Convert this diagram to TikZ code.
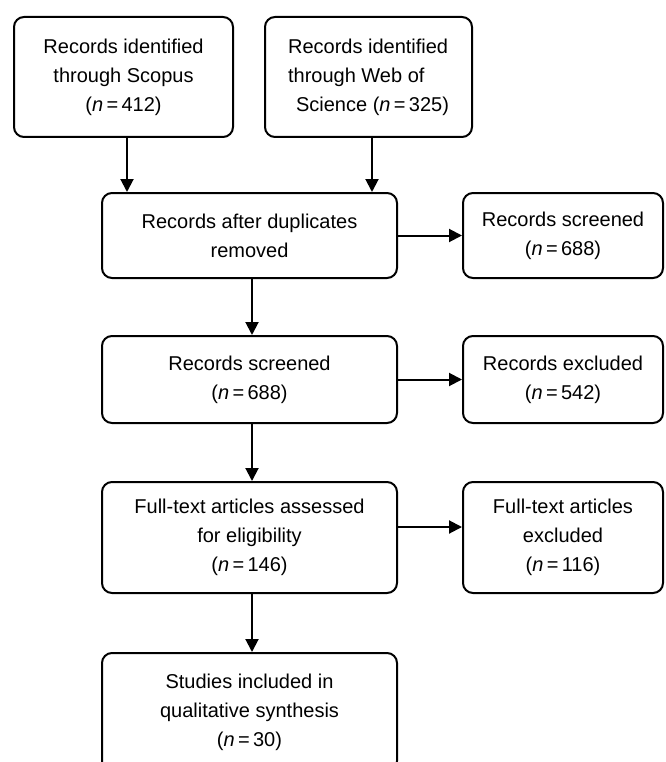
\documentclass[tikz,border=0pt]{standalone}
\usepackage{fontspec}
\setmainfont{Liberation Sans}
\usetikzlibrary{arrows.meta}
\newcommand{\ncount}[1]{(\textit{n}\,=\,#1)}
\begin{document}
\begin{tikzpicture}[x=1pt,y=-1pt,
  box/.style={draw=black, line width=2pt, rounded corners=10pt, fill=white,
    align=center, inner sep=4pt,
    font=\fontsize{20pt}{29pt}\selectfont},
  arr/.style={draw=black, line width=2pt, -{Triangle[length=13pt,width=13pt]}}]
\useasboundingbox[fill=white] (0,0) rectangle (665,762);
\node[box, minimum width=219pt, minimum height=120pt] (A) at (123.5,77)
  {Records identified\\through Scopus\\\ncount{412}};
\node[box, minimum width=207pt, minimum height=120pt, align=left] (B) at (368.5,77)
  {Records identified\\through Web of\\\hspace{8pt}Science \ncount{325}};
\node[box, minimum width=295pt, minimum height=85pt] (C) at (249.5,235.5)
  {Records after duplicates\\removed};
\node[box, minimum width=200pt, minimum height=85pt] (D) at (563,235.5)
  {Records screened\\\ncount{688}};
\node[box, minimum width=295pt, minimum height=87pt] (E) at (249.5,379.5)
  {Records screened\\\ncount{688}};
\node[box, minimum width=200pt, minimum height=87pt] (F) at (563,379.5)
  {Records excluded\\\ncount{542}};
\node[box, minimum width=295pt, minimum height=111pt] (G) at (249.5,537.5)
  {Full-text articles assessed\\for eligibility\\\ncount{146}};
\node[box, minimum width=200pt, minimum height=111pt] (H) at (563,537.5)
  {Full-text articles\\excluded\\\ncount{116}};
\node[box, minimum width=295pt, minimum height=118pt] (I) at (249.5,712)
  {Studies included in\\qualitative synthesis\\\ncount{30}};
\draw[arr] ([xshift=3.5pt]A.south) -- ([xshift=3.5pt]A.south |- C.north);
\draw[arr] ([xshift=3.5pt]B.south) -- ([xshift=3.5pt]B.south |- C.north);
\draw[arr] (C.east) -- (D.west);
\draw[arr] ([xshift=2.5pt]C.south) -- ([xshift=2.5pt]E.north);
\draw[arr] (E.east) -- (F.west);
\draw[arr] ([xshift=2.5pt]E.south) -- ([xshift=2.5pt]G.north);
\draw[arr] ([yshift=10.5pt]G.east) -- ([yshift=10.5pt]H.west);
\draw[arr] ([xshift=2.5pt]G.south) -- ([xshift=2.5pt]I.north);
\end{tikzpicture}
\end{document}
